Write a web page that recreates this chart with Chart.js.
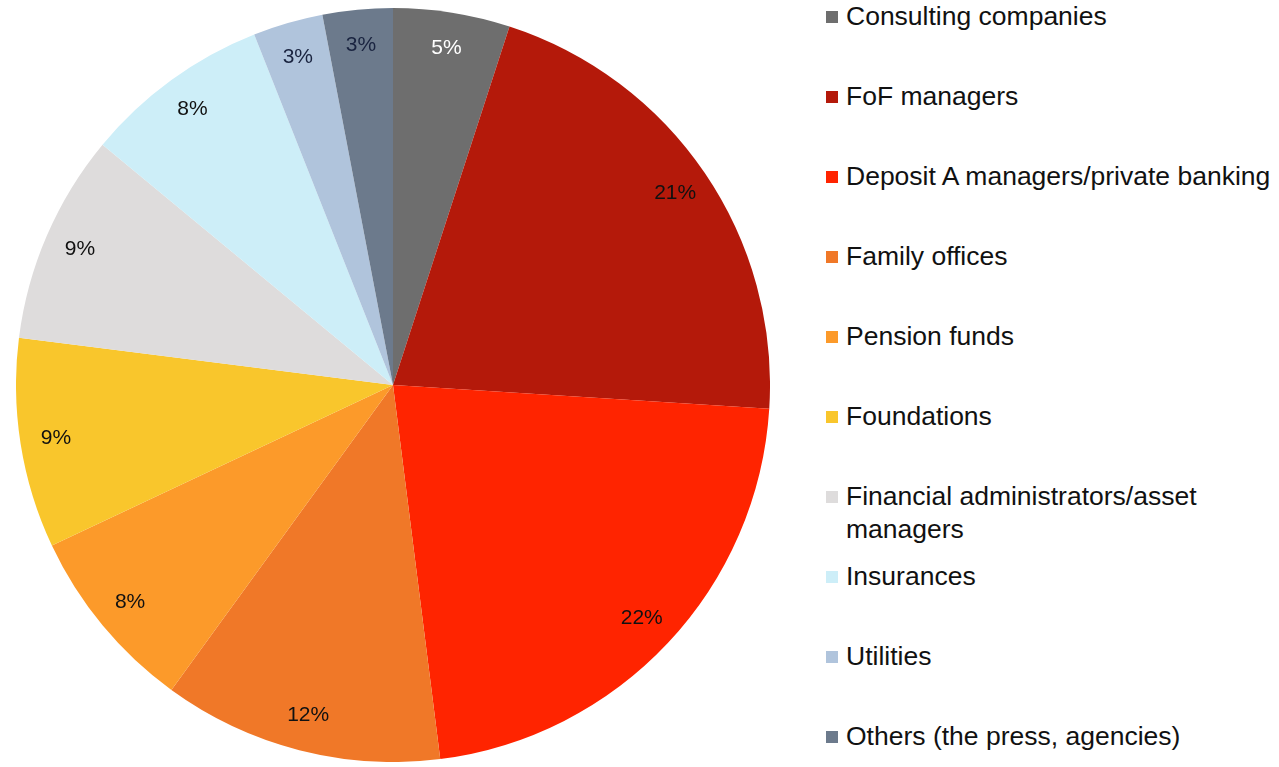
<!DOCTYPE html>
<html>
<head>
<meta charset="utf-8">
<script src="https://cdn.jsdelivr.net/npm/chart.js@4"></script>
<style>
  body { margin: 0; background: #fff; font-family: "Liberation Sans", Arial, sans-serif; }
  #wrap { position: relative; width: 1279px; height: 767px; overflow: hidden; }
  #pie { position: absolute; left: 16px; top: 8px; width: 754px; height: 754px; }
  #legend { position: absolute; left: 826px; top: 0; width: 453px; }
  .item { position: absolute; left: 0; width: 453px; }
  .box { position: absolute; left: 0; top: 11px; width: 12px; height: 12px; }
  .txt { position: absolute; left: 20px; top: 0; width: 433px; font-size: 26.5px; line-height: 33px; color: #111; }
</style>
</head>
<body>
<div id="wrap">
  <div id="pie"><canvas id="c"></canvas></div>
  <div id="legend"></div>
</div>
<script>
const categories = [
  "Consulting companies",
  "FoF managers",
  "Deposit A managers/private banking",
  "Family offices",
  "Pension funds",
  "Foundations",
  "Financial administrators/asset managers",
  "Insurances",
  "Utilities",
  "Others (the press, agencies)"
];
const shares = [5, 21, 22, 12, 8, 9, 9, 8, 3, 3];
const sliceColors = ["#6e6e6e", "#b4190a", "#ff2400", "#f07828", "#fc9a2a", "#f9c62c", "#dedcdc", "#cdeef8", "#b0c4dc", "#6c7a8c"];
const labelColors = ["#ffffff", "#111111", "#111111", "#111111", "#111111", "#111111", "#111111", "#111111", "#1a2440", "#1a2440"];

// percent labels drawn near the outer edge of each slice
const sliceLabels = {
  id: "sliceLabels",
  afterDatasetsDraw(chart) {
    const ctx = chart.ctx;
    const meta = chart.getDatasetMeta(0);
    ctx.save();
    ctx.font = "21px 'Liberation Sans', Arial, sans-serif";
    ctx.textAlign = "center";
    ctx.textBaseline = "middle";
    meta.data.forEach((arc, i) => {
      const mid = (arc.startAngle + arc.endAngle) / 2;
      const r = arc.outerRadius * 0.905;
      ctx.fillStyle = labelColors[i];
      ctx.fillText(shares[i] + "%", arc.x + Math.cos(mid) * r, arc.y + Math.sin(mid) * r);
    });
    ctx.restore();
  }
};

new Chart(document.getElementById("c"), {
  type: "pie",
  data: {
    labels: categories,
    datasets: [{
      data: shares,
      backgroundColor: sliceColors,
      borderWidth: 0
    }]
  },
  options: {
    responsive: true,
    maintainAspectRatio: false,
    animation: false,
    layout: { padding: 0 },
    plugins: {
      legend: { display: false },
      tooltip: { enabled: false }
    }
  },
  plugins: [sliceLabels]
});

const legend = document.getElementById("legend");
categories.forEach((name, i) => {
  const item = document.createElement("div");
  item.className = "item";
  item.style.top = (i * 80) + "px";
  const box = document.createElement("div");
  box.className = "box";
  box.style.background = sliceColors[i];
  const txt = document.createElement("div");
  txt.className = "txt";
  txt.textContent = name;
  item.appendChild(box);
  item.appendChild(txt);
  legend.appendChild(item);
});
</script>
</body>
</html>
